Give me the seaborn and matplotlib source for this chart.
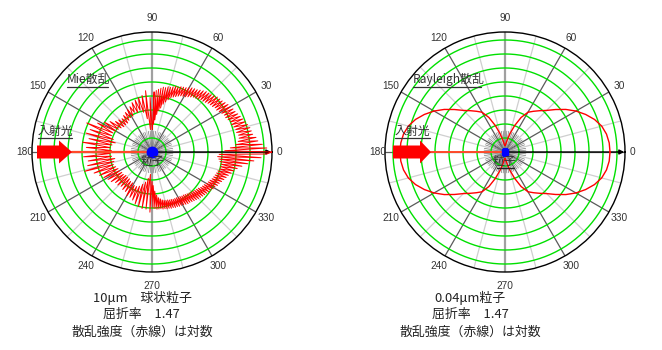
import numpy as np
import matplotlib
matplotlib.use("Agg")
import matplotlib.pyplot as plt
import seaborn as sns
from matplotlib.patches import Polygon

sns.set_theme(style="white")
plt.rcParams["font.family"] = ["Noto Sans CJK JP", "DejaVu Sans"]

# Mie scattering (10 um sphere): angle in degrees, log intensity (one ring = one decade).
# Fine 1-degree steps in the forward lobes, 2-degree steps in the backward half.
mie_angle = list(range(0, 90)) + list(range(90, 270, 2)) + list(range(270, 361))
mie_fwd_upper = [
    8.55, 5.2, 8.2, 5.6, 7.9, 6.0, 7.6, 6.2, 7.5, 6.3,
    7.3, 6.3, 7.25, 6.2, 7.2, 6.2, 7.1, 6.1, 7.0, 6.0,
    6.9, 6.0, 6.8, 5.9, 6.7, 5.8, 6.6, 5.8, 6.55, 5.7,
    6.45, 5.6, 6.4, 5.5, 6.3, 5.5, 6.2, 5.4, 6.15, 5.35,
    6.1, 5.3, 6.0, 5.2, 5.9, 5.15, 5.85, 5.1, 5.8, 5.0,
    5.7, 4.95, 5.6, 4.9, 5.5, 4.8, 5.45, 4.7, 5.4, 4.6,
    5.3, 4.55, 5.2, 4.5, 5.15, 4.4, 5.1, 4.3, 5.0, 4.2,
    5.0, 4.1, 4.9, 3.9, 4.8, 3.7, 4.8, 3.5, 4.7, 3.2,
    4.7, 3.0, 4.6, 2.7, 4.5, 2.3, 4.4, 2.0, 4.3, 1.6,
]
mie_back = [
    1.8, 3.9, 1.6, 4.4, 2.4, 4.1, 2.9, 4.0, 3.1, 3.9,
    3.0, 3.8, 3.1, 3.6, 2.9, 3.5, 2.9, 3.4, 2.8, 3.3,
    2.7, 3.2, 2.7, 3.3, 2.7, 3.4, 2.8, 3.7, 2.9, 4.0,
    3.0, 4.4, 3.1, 5.1, 3.1, 4.7, 2.9, 4.9, 2.7, 4.6,
    2.9, 5.0, 3.0, 4.7, 2.9, 5.1, 3.0, 4.9, 2.9, 4.6,
    2.7, 4.7, 2.8, 5.0, 2.9, 4.4, 2.8, 4.1, 2.7, 3.9,
    2.7, 3.7, 2.6, 3.6, 2.6, 3.4, 2.5, 3.4, 2.5, 3.3,
    2.5, 3.4, 2.6, 3.4, 2.6, 3.6, 2.7, 3.6, 2.7, 3.7,
    2.6, 3.9, 2.4, 4.0, 2.2, 4.1, 1.9, 4.1, 1.6, 4.3,
]
mie_fwd_lower = [
    2.1, 4.0, 2.4, 4.05, 2.8, 4.1, 3.1, 4.1, 3.3, 4.1,
    3.4, 4.15, 3.5, 4.15, 3.55, 4.2, 3.6, 4.2, 3.6, 4.25,
    3.65, 4.25, 3.65, 4.3, 3.7, 4.3, 3.7, 4.35, 3.7, 4.35,
    3.75, 4.4, 3.75, 4.45, 3.8, 4.5, 3.8, 4.5, 3.85, 4.55,
    3.9, 4.6, 3.95, 4.65, 4.0, 4.7, 4.05, 4.75, 4.1, 4.8,
    4.15, 4.85, 4.2, 4.9, 4.3, 4.95, 4.35, 5.0, 4.4, 5.1,
    4.5, 5.15, 4.55, 5.25, 4.6, 5.3, 4.7, 5.4, 4.75, 5.5,
    4.8, 5.6, 4.85, 5.7, 4.9, 5.85, 5.0, 6.0, 5.0, 6.2,
    5.0, 6.5, 4.9, 6.9, 4.8, 7.3, 4.7, 7.8, 4.8, 8.2,
    8.55,
]
mie_level = mie_fwd_upper + mie_back + mie_fwd_lower

# Rayleigh scattering (0.04 um particle): first quadrant, mirrored by symmetry
ray_angle_q = [0, 5, 10, 15, 20, 25, 30, 35, 40, 45, 50, 55, 60, 65, 70, 75, 80, 85, 90]
ray_level_q = [7.5, 7.47, 7.36, 7.15, 6.8, 6.35, 5.85, 5.3, 4.72, 4.2, 3.85, 3.55, 3.28,
               2.72, 2.0, 1.35, 0.85, 0.55, 0.45]

ray_angle = (ray_angle_q + [180 - a for a in ray_angle_q[::-1]]
             + [180 + a for a in ray_angle_q] + [360 - a for a in ray_angle_q[::-1]])
ray_level = ray_level_q + ray_level_q[::-1] + ray_level_q + ray_level_q[::-1]

ring_levels = [1, 2, 3, 4, 5, 6, 7, 8]
r_max = 8.57
angle_labels = list(range(0, 360, 30))

W, H = 662, 350
fig = plt.figure(figsize=(W / 100, H / 100), dpi=100)
fig.patch.set_facecolor("white")

R_PX = 120.0


def polar_axes(cx, cy):
    ax = fig.add_axes([(cx - R_PX) / W, (H - cy - R_PX) / H, 2 * R_PX / W, 2 * R_PX / H],
                      projection="polar")
    ax.set_facecolor("white")
    ax.set_ylim(0, r_max)
    ax.set_xticks([])
    ax.set_yticks([])
    ax.grid(False)
    ax.spines["polar"].set_color("black")
    ax.spines["polar"].set_linewidth(1.0)
    th = np.linspace(0, 2 * np.pi, 361)
    for r in ring_levels:
        ax.plot(th, np.full_like(th, r), color="#00e000", lw=1.0, zorder=2)
    for a in range(0, 360, 15):
        t = np.radians(a)
        if a in (90, 270):
            ax.plot([t, t], [0, r_max], color="#a0a0a0", lw=1.6, zorder=1)
        elif a % 30 == 0:
            ax.plot([t, t], [0, r_max], color="#5a5a5a", lw=0.9, zorder=1)
        else:
            ax.plot([t, t], [0, r_max], color="#cfcfcf", lw=0.9, zorder=1)
    for a in range(0, 360, 5):
        if a % 15:
            t = np.radians(a)
            ax.plot([t, t], [0, 1.5], color="#7a7a7a", lw=0.5, zorder=1)
    for a in angle_labels:
        if a in (0, 180):
            rl = 9.1
        elif a in (90, 270):
            rl = 9.55
        else:
            rl = 9.4
        ax.text(np.radians(a), rl, str(a), ha="center", va="center", fontsize=7.3,
                family="Liberation Sans", color="#333333", clip_on=False)
    ax.annotate("", xy=(0, r_max - 0.05), xytext=(0, 0),
                arrowprops=dict(arrowstyle="-|>", color="black", lw=1.0,
                                mutation_scale=7, shrinkA=0, shrinkB=0), zorder=3)
    return ax


ax1 = polar_axes(152, 152)
sns.lineplot(x=np.radians(mie_angle), y=mie_level, ax=ax1, sort=False, estimator=None,
             color="#ff0000", lw=0.7, legend=False, zorder=4)
ax1.plot([np.pi, np.pi], [0, 5.7], color="#ff4a2a", lw=1.6, zorder=5)
ax1.plot([0], [0], "o", color="#0000ff", ms=7.5, zorder=6)

ax2 = polar_axes(505, 152)
sns.lineplot(x=np.radians(ray_angle), y=ray_level, ax=ax2, sort=False, estimator=None,
             color="#ff0000", lw=1.0, legend=False, zorder=4)
ax2.plot([np.pi, np.pi], [0, 5.3], color="#ff4a2a", lw=1.4, zorder=5)
ax2.plot([0], [0], "s", color="#0000ff", ms=4.5, zorder=6)

for ax in (ax1, ax2):
    ax.set_xlabel("")
    ax.set_ylabel("")

# annotation layer in pixel coordinates
ov = fig.add_axes([0, 0, 1, 1], zorder=10)
ov.set_xlim(0, W)
ov.set_ylim(H, 0)
ov.axis("off")
ov.patch.set_alpha(0)

for pts in ([(37, 145.5), (59, 145.5), (59, 140.5), (72, 152), (59, 163.5), (59, 158.5), (37, 158.5)],
            [(393, 145.5), (420, 145.5), (420, 140.5), (431, 152), (420, 163.5), (420, 158.5), (393, 158.5)]):
    ov.add_patch(Polygon(pts, closed=True, facecolor="#ff0000", edgecolor="none"))

lab_kw = dict(fontsize=8.6, color="#333333", va="center")
ov.text(67, 79, "Mie散乱", ha="left", **lab_kw)
ov.plot([67, 108], [86.5, 86.5], color="#333333", lw=0.9)
ov.text(413, 79, "Rayleigh散乱", ha="left", **lab_kw)
ov.plot([413, 481], [86.5, 86.5], color="#333333", lw=0.9)
ov.text(38, 131, "入射光", ha="left", **lab_kw)
ov.plot([38, 72], [137.5, 137.5], color="#333333", lw=0.9)
ov.text(395, 131, "入射光", ha="left", **lab_kw)
ov.plot([395, 430], [137.5, 137.5], color="#333333", lw=0.9)
ov.text(153, 162, "粒子", ha="center", **lab_kw)
ov.text(505, 162, "粒子", ha="center", **lab_kw)
ov.plot([497, 514], [168, 168], color="#222222", lw=1.0)

cap_kw = dict(fontsize=9.3, color="#222222", ha="center", va="center")
ov.text(142, 298, "10μm　球状粒子", **cap_kw)
ov.text(141, 314, "屈折率　1.47", **cap_kw)
ov.text(142, 332, "散乱強度（赤線）は対数", **cap_kw)
ov.text(470, 298, "0.04μm粒子", **cap_kw)
ov.text(470, 314, "屈折率　1.47", **cap_kw)
ov.text(470, 332, "散乱強度（赤線）は対数", **cap_kw)

fig.savefig("out.png", dpi=100, facecolor="white")
